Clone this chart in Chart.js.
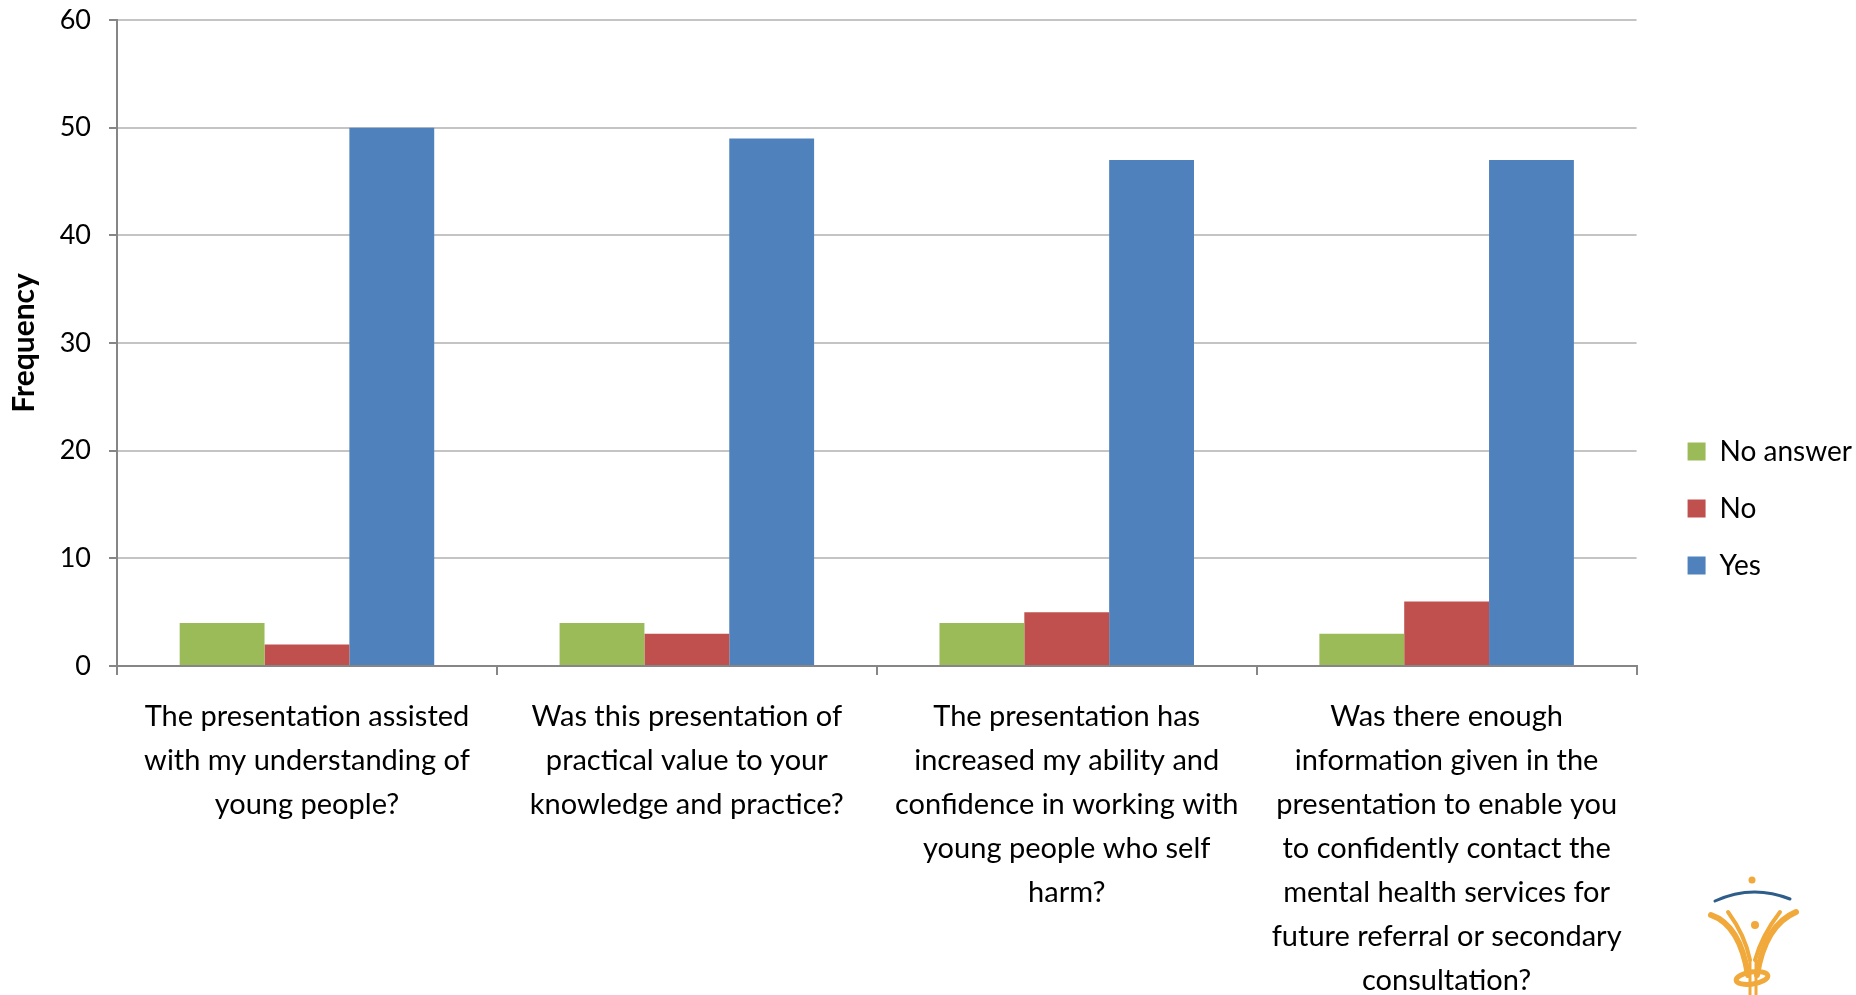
<!DOCTYPE html>
<html>
<head>
<meta charset="utf-8">
<script src="https://cdn.jsdelivr.net/npm/chart.js@4.4.1/dist/chart.umd.min.js"></script>
<style>
  html, body { margin: 0; padding: 0; background: #fff; }
  #wrap { width: 1856px; height: 995px; position: relative; }
</style>
</head>
<body>
<div id="wrap"><canvas id="chart" width="1856" height="995"></canvas></div>
<script>
// survey questions (wrapped as in the original chart)
const questions = [
  ['The presentation assisted', 'with my understanding of', 'young people?'],
  ['Was this presentation of', 'practical value to your', 'knowledge and practice?'],
  ['The presentation has', 'increased my ability and', 'confidence in working with', 'young people who self', 'harm?'],
  ['Was there enough', 'information given in the', 'presentation to enable you', 'to confidently contact the', 'mental health services for', 'future referral or secondary', 'consultation?']
];
const noAnswer = [4, 4, 4, 3];
const no = [2, 3, 5, 6];
const yes = [50, 49, 47, 47];
const yTicks = [0, 10, 20, 30, 40, 50, 60];

const FONT = 'Lato, "Open Sans", sans-serif';
const axisGrey = '#868686';

// small sketch of the logo in the bottom right corner
const logoPlugin = {
  id: 'logo',
  afterDraw(chart) {
    const c = chart.ctx;
    c.save();
    c.lineCap = 'round';
    // blue arc
    c.strokeStyle = '#2f5d8a';
    c.lineWidth = 3;
    c.beginPath();
    c.moveTo(1715, 901);
    c.quadraticCurveTo(1752, 884, 1790, 899);
    c.stroke();
    // orange star
    c.fillStyle = '#f0a93a';
    c.beginPath();
    c.arc(1752, 880, 3.5, 0, Math.PI * 2);
    c.fill();
    c.strokeStyle = '#f0a93a';
    // arms
    c.lineWidth = 6;
    c.beginPath();
    c.moveTo(1711, 915);
    c.quadraticCurveTo(1740, 925, 1748, 975);
    c.stroke();
    c.beginPath();
    c.moveTo(1796, 912);
    c.quadraticCurveTo(1765, 925, 1757, 975);
    c.stroke();
    c.lineWidth = 4;
    c.beginPath();
    c.moveTo(1728, 912);
    c.quadraticCurveTo(1745, 935, 1750, 960);
    c.stroke();
    c.beginPath();
    c.moveTo(1780, 912);
    c.quadraticCurveTo(1762, 935, 1755, 960);
    c.stroke();
    // head
    c.beginPath();
    c.arc(1755, 925, 4, 0, Math.PI * 2);
    c.fill();
    // swirl and stem
    c.lineWidth = 5;
    c.beginPath();
    c.ellipse(1752, 978, 16, 6, -0.15, 0, Math.PI * 2);
    c.stroke();
    c.lineWidth = 3;
    c.beginPath();
    c.moveTo(1750, 960);
    c.lineTo(1750, 995);
    c.moveTo(1756, 960);
    c.lineTo(1756, 995);
    c.stroke();
    c.restore();
  }
};

const ctx = document.getElementById('chart').getContext('2d');
new Chart(ctx, {
  type: 'bar',
  data: {
    labels: questions,
    datasets: [
      { label: 'No answer', data: noAnswer, backgroundColor: '#9BBB59' },
      { label: 'No', data: no, backgroundColor: '#C0504D' },
      { label: 'Yes', data: yes, backgroundColor: '#4F81BD' }
    ]
  },
  plugins: [logoPlugin],
  options: {
    responsive: false,
    animation: false,
    layout: { padding: { top: 0, right: -6, bottom: 0, left: 0 } },
    datasets: { bar: { categoryPercentage: 0.67, barPercentage: 1.0 } },
    plugins: {
      tooltip: { enabled: false },
      legend: {
        position: 'right',
        align: 'center',
        labels: {
          boxWidth: 18,
          boxHeight: 18,
          padding: 51,
          color: '#000',
          font: { family: FONT, size: 28, lineHeight: 6 / 28 },
          generateLabels: (chart) =>
            Chart.defaults.plugins.legend.labels.generateLabels(chart)
              .map(item => ({ ...item, text: [item.text] }))
        }
      }
    },
    scales: {
      x: {
        grid: { offset: true, drawOnChartArea: false, tickLength: 9, color: axisGrey, lineWidth: 2 },
        border: { color: axisGrey, width: 2 },
        ticks: {
          color: '#000',
          padding: 20,
          maxRotation: 0,
          autoSkip: false,
          font: { family: FONT, size: 29, lineHeight: 44 / 29 }
        },
        afterFit: (s) => { s.height = 329; }
      },
      y: {
        min: 0, max: 60,
        afterBuildTicks: (s) => { s.ticks = yTicks.map(v => ({ value: v })); },
        grid: { color: '#C4C4C4', lineWidth: 2, tickLength: 8, tickColor: axisGrey },
        border: { color: axisGrey, width: 2 },
        ticks: {
          color: '#000',
          padding: 18,
          font: { family: FONT, size: 27 }
        },
        title: {
          display: true,
          text: 'Frequency',
          color: '#000',
          padding: { top: 6, bottom: 0 },
          font: { family: FONT, size: 30, weight: 'bold' }
        },
        afterFit: (s) => { s.width = 117; s.paddingTop = 20; }
      }
    }
  }
});
</script>
</body>
</html>
